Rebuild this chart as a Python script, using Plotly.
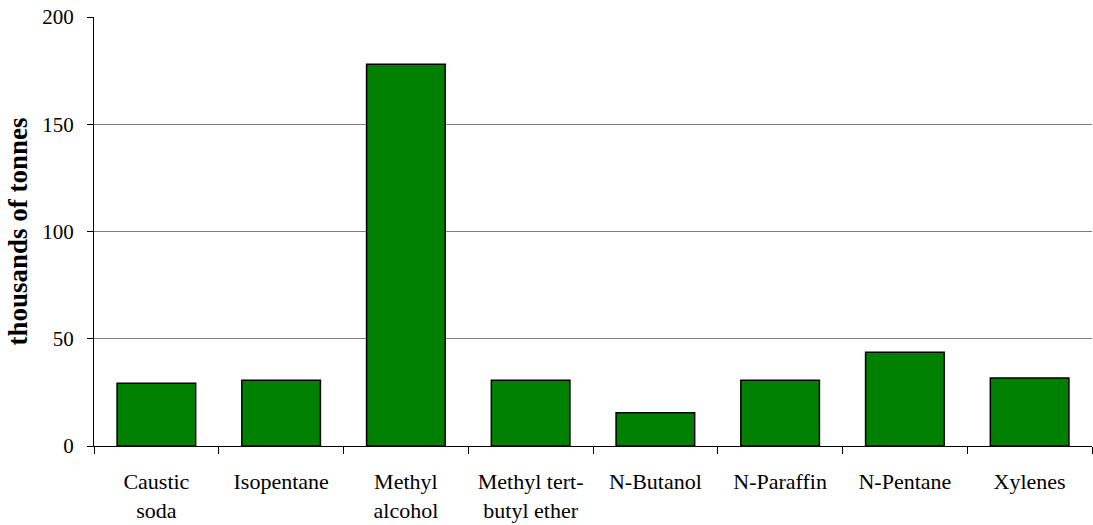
import plotly.graph_objects as go

categories = [
    "Caustic<br>soda",
    "Isopentane",
    "Methyl<br>alcohol",
    "Methyl tert-<br>butyl ether",
    "N-Butanol",
    "N-Paraffin",
    "N-Pentane",
    "Xylenes",
]
tonnes_thousands = [29.2, 30.7, 178, 30.7, 15.5, 30.7, 43.7, 31.7]
y_ticks = [0, 50, 100, 150, 200]

serif = "Liberation Serif, Times New Roman, serif"

fig = go.Figure(
    go.Bar(
        x=categories,
        y=tonnes_thousands,
        marker=dict(color="#008000", line=dict(color="black", width=1.5)),
    )
)

fig.update_layout(
    width=1093,
    height=525,
    margin=dict(l=94, r=1, t=17, b=79),
    plot_bgcolor="white",
    paper_bgcolor="white",
    bargap=0.37,
    showlegend=False,
    font=dict(family=serif, size=22, color="black"),
)

fig.update_xaxes(
    type="category",
    showline=True,
    linecolor="black",
    linewidth=1,
    ticks="outside",
    tickson="boundaries",
    ticklen=7,
    tickcolor="black",
    showgrid=False,
    tickfont=dict(family=serif, size=22),
    ticklabelstandoff=16,
)

fig.update_yaxes(
    range=[0, 200],
    tickvals=y_ticks,
    showline=True,
    linecolor="black",
    linewidth=1,
    ticks="outside",
    ticklen=6,
    tickcolor="black",
    showgrid=True,
    gridcolor="#808080",
    gridwidth=1,
    zeroline=False,
    tickfont=dict(family=serif, size=21),
    ticklabelstandoff=9,
    title=dict(
        text="<b>thousands of tonnes</b>",
        font=dict(family=serif, size=27),
        standoff=6,
    ),
)

fig.write_html("out.html")
